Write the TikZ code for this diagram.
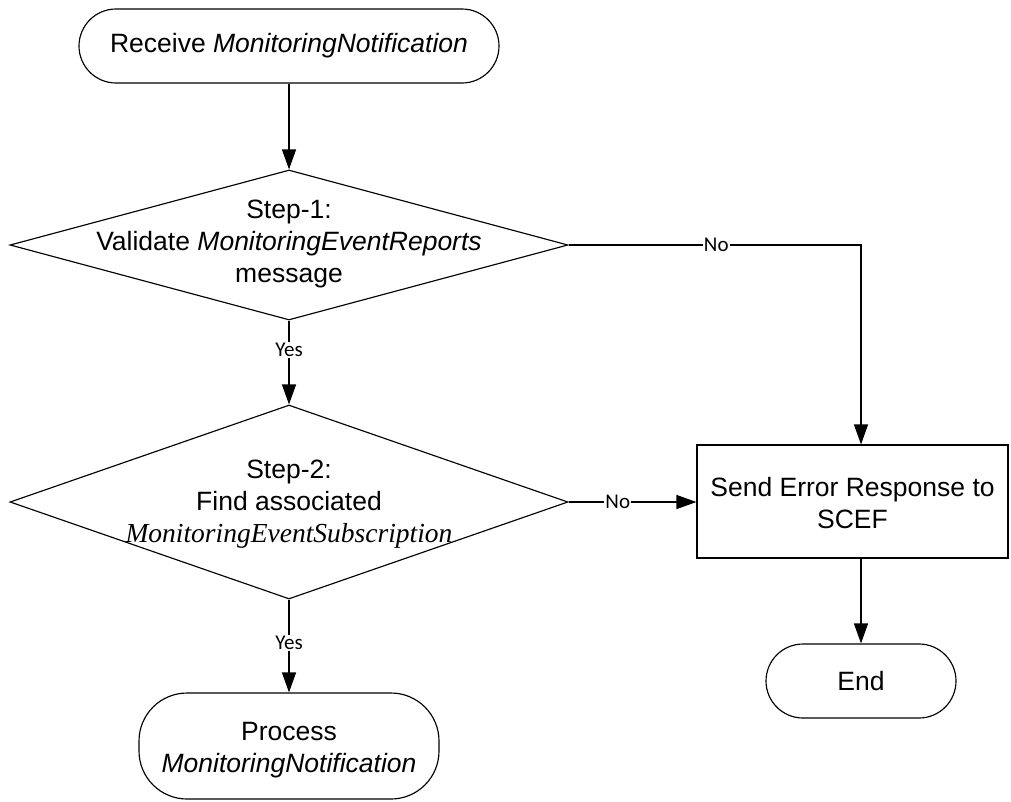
\documentclass[tikz,border=0pt]{standalone}
\usepackage{fontspec}
\setmainfont{Liberation Sans}
\newfontfamily\tmsfont{Liberation Serif}
\newfontfamily\lblfont{Carlito}
\usetikzlibrary{shapes.geometric,arrows.meta}
\begin{document}
\begin{tikzpicture}[x=1pt,y=-1pt,
  every path/.style={line width=1.15pt},
  txt/.style={font=\fontsize{26.5}{32}\selectfont, align=center, inner sep=0pt},
  term/.style={draw, rectangle, rounded corners=#1, inner sep=0pt, line width=1.15pt},
  dec/.style={draw, diamond, inner sep=0pt, line width=1.15pt},
  procbox/.style={draw, rectangle, inner sep=0pt, line width=1.15pt},
  conn/.style={line width=1.15pt, -{Triangle[length=20pt,width=14pt]}},
  lbl/.style={font=\lblfont\fontsize{21}{24}\selectfont, fill=white, inner sep=1pt}]
\useasboundingbox (0,0) rectangle (1011,801);

\node[term=37pt, minimum width=420pt, minimum height=74pt] (start) at (289,46) {};
\node[txt] (starttxt) at (start) {Receive \textit{MonitoringNotification}};

\node[dec, minimum width=558pt, minimum height=150pt] (d1) at (289,245) {};
\node[txt] (d1txt) at (289,244) {Step-1:\\Validate \textit{MonitoringEventReports}\\message};

\node[dec, minimum width=558pt, minimum height=194pt] (d2) at (289,502) {};
\node[txt] (d2txt) at (289,504) {Step-2:\\Find associated\\{\tmsfont\itshape\fontsize{27.5}{32}\selectfont MonitoringEventSubscription}};

\node[procbox, minimum width=311pt, minimum height=113pt] (err) at (852.5,501.5) {};
\node[txt] (errtxt) at (852.5,503) {Send Error Response to\\SCEF};

\node[term=37pt, minimum width=190pt, minimum height=74pt] (end) at (861,681) {};
\node[txt] (endtxt) at (end) {End};

\node[term=48pt, minimum width=300pt, minimum height=106pt] (proc) at (289,746) {};
\node[txt] (proctxt) at (289,750) {Process\\\textit{MonitoringNotification}};

\draw[conn] (start.south) -- (d1.north);
\draw[conn] (d1.east) -- node[lbl, pos=0.505] {No} (d1.east -| end.north) -- (err.north -| end.north);
\draw[conn] (d1.south) -- node[lbl, pos=0.35] {Yes} (d2.north);
\draw[conn] (d2.east) -- node[lbl, pos=0.385] {No} (d2.east -| err.west);
\draw[conn] (d2.south) -- node[lbl, pos=0.47] {Yes} (proc.north);
\draw[conn] (err.south -| end.north) -- (end.north);
\end{tikzpicture}
\end{document}
